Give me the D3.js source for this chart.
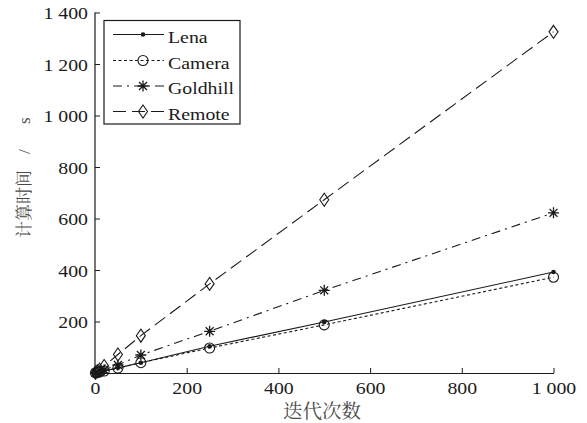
<!DOCTYPE html>
<html><head><meta charset="utf-8">
<script src="https://cdn.jsdelivr.net/npm/d3@7"></script>
<style>
body{margin:0;background:#fff;}
svg{display:block;}
</style></head>
<body>
<svg id="c" width="587" height="423"></svg>
<script>
const iterations = [1, 5, 10, 20, 50, 100, 250, 500, 1000];
const lena     = [0.4, 2, 4, 8, 20, 40, 104, 198, 392];
const camera   = [0.37, 1.9, 3.7, 7.5, 19, 40, 97, 187, 372];
const goldhill = [0.6, 3.1, 6.2, 12.5, 31, 70, 162, 321, 622];
const remote   = [1.3, 6.6, 13, 27, 72, 145, 346, 673, 1325];
const seriesNames = ["Lena", "Camera", "Goldhill", "Remote"];
const xTicks = [0, 200, 400, 600, 800, 1000];
const yTicks = [200, 400, 600, 800, 1000, 1200, 1400];
const xTitle = "迭代次数";
const yTitleCJK = "计算时间";
const yTitleUnit = ["/", "s"];

const svg = d3.select("#c");
const x = d3.scaleLinear().domain([0, 1000]).range([95, 553.5]);
const y = d3.scaleLinear().domain([0, 1400]).range([373, 12.5]);
const ink = "#1a1a1a";
const fmt = v => d3.format(",")(v).replace(/,/g, " ");
const serif = "Liberation Serif";
const cjk = "Noto Serif CJK SC";
const sx = 1.2; // horizontal stretch of the Latin glyphs

const styles = {
  Lena:     {dash: null,            marker: "dot"},
  Camera:   {dash: "3,2.5",         marker: "circle"},
  Goldhill: {dash: "9,5,2,5",       marker: "star"},
  Remote:   {dash: "13,6",          marker: "diamond"}
};
const dataBy = {Lena: lena, Camera: camera, Goldhill: goldhill, Remote: remote};

// axes
const xAxis = d3.axisBottom(x).tickValues(xTicks).tickSizeInner(-5).tickSizeOuter(0).tickPadding(9).tickFormat(fmt);
const yAxis = d3.axisLeft(y).tickValues(yTicks).tickSizeInner(-5).tickSizeOuter(0).tickPadding(7).tickFormat(fmt);
const gx = svg.append("g").attr("transform", `translate(0,${y(0)})`).call(xAxis);
const gy = svg.append("g").attr("transform", `translate(${x(0)},0)`).call(yAxis);
[gx, gy].forEach(g => {
  g.attr("font-family", serif).attr("font-size", 16.5);
  g.select(".domain").attr("stroke", ink).attr("stroke-width", 1.2);
  g.selectAll(".tick line").attr("stroke", ink).attr("stroke-width", 1);
  g.selectAll(".tick text").attr("fill", ink).attr("font-family", serif).attr("font-size", 16.5)
    .attr("transform", `scale(${sx},1)`);
});
gy.selectAll(".tick text").attr("x", -7 / sx).attr("dy", "0.38em");
gy.select(".domain").attr("d", `M0,${y(0)}V${y(1400)}`);

// titles
svg.append("text").attr("x", 322).attr("y", 418).attr("text-anchor", "middle")
  .attr("fill", "#4a4a4a").attr("font-family", cjk).attr("font-size", 19.5).text(xTitle);
const yt = svg.append("text").attr("transform", "translate(30,0) rotate(-90)")
  .attr("fill", "#4a4a4a").attr("font-size", 17);
yt.append("tspan").attr("x", -238).attr("font-family", cjk).text(yTitleCJK);
yt.append("tspan").attr("x", -154).attr("font-family", serif).text(yTitleUnit[0]);
yt.append("tspan").attr("x", -124).attr("font-family", serif).text(yTitleUnit[1]);

function drawMarker(g, type, cx, cy) {
  if (type === "dot") {
    g.append("circle").attr("cx", cx).attr("cy", cy).attr("r", 2.3).attr("fill", ink);
  } else if (type === "circle") {
    g.append("circle").attr("cx", cx).attr("cy", cy).attr("r", 5).attr("fill", "none").attr("stroke", ink).attr("stroke-width", 1.1);
  } else if (type === "star") {
    const s = 5.5, d = s * 0.72;
    g.append("path").attr("d",
      `M${cx-s},${cy}H${cx+s}M${cx},${cy-s}V${cy+s}M${cx-d},${cy-d}L${cx+d},${cy+d}M${cx-d},${cy+d}L${cx+d},${cy-d}`)
      .attr("stroke", ink).attr("stroke-width", 1.3).attr("fill", "none");
  } else if (type === "diamond") {
    g.append("path").attr("d", `M${cx},${cy-6.5}L${cx+4.5},${cy}L${cx},${cy+6.5}L${cx-4.5},${cy}Z`)
      .attr("fill", "none").attr("stroke", ink).attr("stroke-width", 1.1);
  }
}

// series
const line = d3.line().x((d, i) => x(iterations[i])).y(d => y(d));
seriesNames.forEach(name => {
  const vals = dataBy[name];
  const st = styles[name];
  const g = svg.append("g");
  g.append("path").datum(vals).attr("d", line).attr("fill", "none").attr("stroke", ink)
    .attr("stroke-width", 1.1).attr("stroke-dasharray", st.dash);
  vals.forEach((v, i) => drawMarker(g, st.marker, x(iterations[i]), y(v)));
});

// legend
const lg = svg.append("g");
lg.append("rect").attr("x", 104).attr("y", 20.5).attr("width", 136).attr("height", 103.5)
  .attr("fill", "#fff").attr("stroke", ink).attr("stroke-width", 1.2);
const rowY = [34.5, 60.5, 86, 111.5];
seriesNames.forEach((name, i) => {
  const st = styles[name];
  const yy = rowY[i];
  lg.append("line").attr("x1", 113).attr("x2", 164).attr("y1", yy).attr("y2", yy)
    .attr("stroke", ink).attr("stroke-width", 1.1).attr("stroke-dasharray", st.dash);
  drawMarker(lg, st.marker, 143, yy);
  lg.append("text").attr("transform", `translate(168,${yy + 8}) scale(${sx},1)`).attr("fill", ink)
    .attr("font-family", serif).attr("font-size", 16.5).text(name);
});
</script>
</body></html>
